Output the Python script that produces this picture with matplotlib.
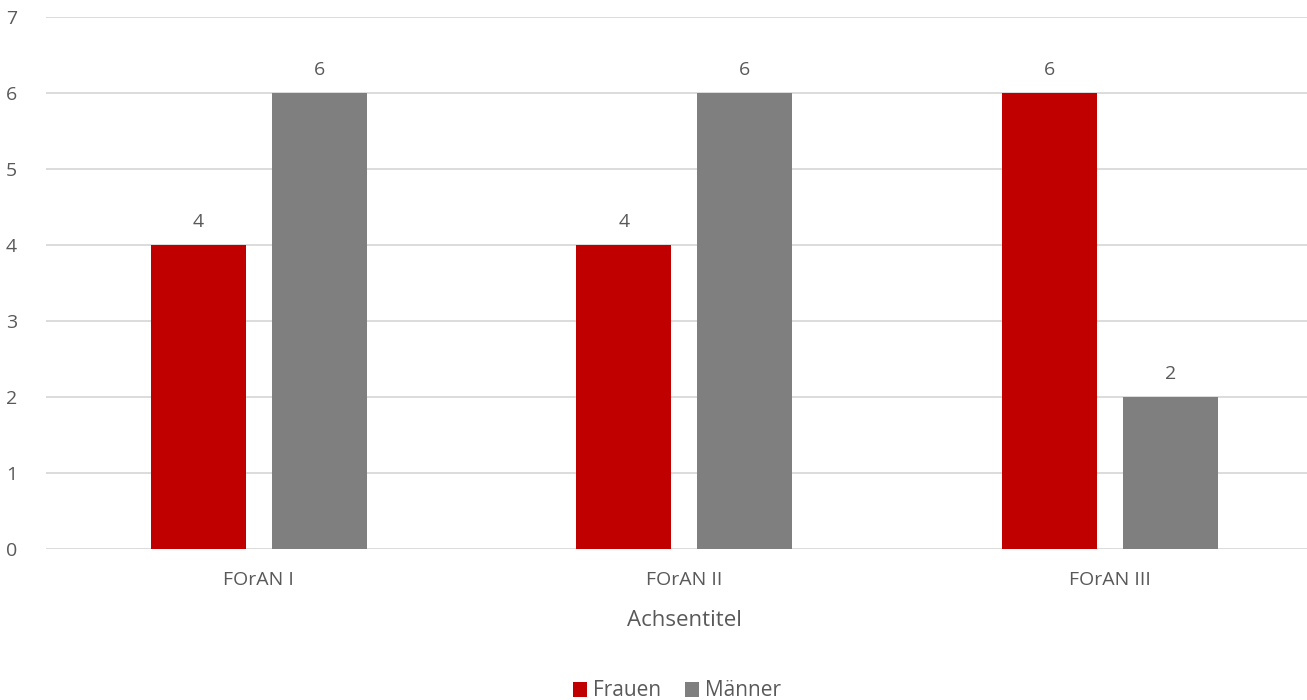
import matplotlib.pyplot as plt
import numpy as np

categories = ["FOrAN I", "FOrAN II", "FOrAN III"]
frauen = [4, 4, 6]
maenner = [6, 6, 2]
series_names = ["Frauen", "Männer"]
y_ticks = [0, 1, 2, 3, 4, 5, 6, 7]

RED = "#C00000"
GRAY = "#7F7F7F"
TEXT = "#595959"
GRID = "#D9D9D9"

plt.rcParams["font.family"] = ["Open Sans", "DejaVu Sans"]

fig = plt.figure(figsize=(13.07, 7.0), dpi=100)
ax = fig.add_axes([46 / 1307, 1 - 549 / 700, 1276.5 / 1307, (549 - 17) / 700])

x = np.arange(len(categories))
width = 0.223
offset = 0.142
b1 = ax.bar(x - offset, frauen, width, color=RED, label=series_names[0], zorder=3)
b2 = ax.bar(x + offset, maenner, width, color=GRAY, label=series_names[1], zorder=3)

for bars, vals in ((b1, frauen), (b2, maenner)):
    for rect, v in zip(bars, vals):
        ax.annotate(str(v), (rect.get_x() + rect.get_width() / 2, v),
                    xytext=(0, 10), textcoords="offset points",
                    ha="center", va="bottom", fontsize=14, color=TEXT)

ax.set_xlim(-0.5, 2.5)
ax.set_ylim(0, 7)
ax.set_yticks(y_ticks)
ax.set_xticks(x)
ax.set_xticklabels(categories)
ax.tick_params(axis="both", length=0, labelsize=14, colors=TEXT)
ax.tick_params(axis="y", pad=21)
ax.tick_params(axis="x", pad=16)
ax.yaxis.grid(True, color=GRID, linewidth=1.3, zorder=0)
for s in ax.spines.values():
    s.set_visible(False)
ax.set_xlabel("Achsentitel", fontsize=16, color=TEXT, labelpad=15)

fig.legend(loc="center", bbox_to_anchor=(677 / 1307, 1 - 691 / 700), ncol=2,
           frameon=False, fontsize=15, labelcolor=TEXT, handlelength=0.7,
           handleheight=0.7, handletextpad=0.3, columnspacing=1.1)

fig.savefig("out.png", dpi=100)
